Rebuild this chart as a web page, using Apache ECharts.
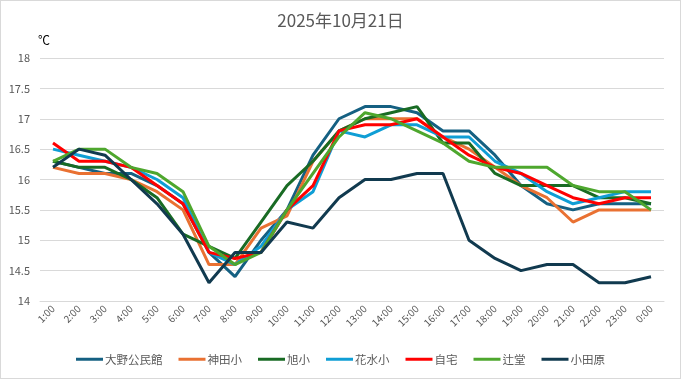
<!DOCTYPE html>
<html><head><meta charset="utf-8">
<script src="https://cdn.jsdelivr.net/npm/echarts@6/dist/echarts.min.js"></script>
<style>html,body{margin:0;padding:0;background:#fff}#c{width:679px;height:377px;border:1px solid #d9d9d9}</style>
</head><body><div id="c"></div>
<script>
const categories = ['1:00','2:00','3:00','4:00','5:00','6:00','7:00','8:00','9:00','10:00','11:00','12:00','13:00','14:00','15:00','16:00','17:00','18:00','19:00','20:00','21:00','22:00','23:00','0:00'];
const seriesNames = ['大野公民館','神田小','旭小','花水小','自宅','辻堂','小田原'];
const ono     = [16.3,16.2,16.1,16.1,15.9,15.6,14.8,14.4,15.0,15.5,16.4,17.0,17.2,17.2,17.1,16.8,16.8,16.4,15.9,15.6,15.5,15.6,15.6,15.6];
const kanda   = [16.2,16.1,16.1,16.0,15.8,15.5,14.6,14.6,15.2,15.4,16.3,16.8,17.0,17.0,17.0,16.7,16.5,16.2,15.9,15.7,15.3,15.5,15.5,15.5];
const asahi   = [16.3,16.2,16.2,16.0,15.7,15.1,14.9,14.7,15.3,15.9,16.3,16.8,17.0,17.1,17.2,16.6,16.6,16.1,15.9,15.9,15.9,15.7,15.7,15.6];
const hanamizu= [16.5,16.4,16.3,16.2,16.0,15.7,14.8,14.6,14.9,15.5,15.8,16.8,16.7,16.9,16.9,16.7,16.7,16.3,16.1,15.8,15.6,15.7,15.8,15.8];
const jitaku  = [16.6,16.3,16.3,16.2,15.9,15.6,14.8,14.7,14.8,15.5,15.9,16.8,16.9,16.9,17.0,16.7,16.4,16.2,16.1,15.9,15.7,15.6,15.7,15.7];
const tsujido = [16.3,16.5,16.5,16.2,16.1,15.8,14.9,14.6,14.8,15.5,16.1,16.7,17.1,17.0,16.8,16.6,16.3,16.2,16.2,16.2,15.9,15.8,15.8,15.5];
const odawara = [16.2,16.5,16.4,16.0,15.6,15.1,14.3,14.8,14.8,15.3,15.2,15.7,16.0,16.0,16.1,16.1,15.0,14.7,14.5,14.6,14.6,14.3,14.3,14.4];
const yTicks = {min:14, max:18, interval:0.5};
const dataList = [ono,kanda,asahi,hanamizu,jitaku,tsujido,odawara];
const colors = ['#156082','#E97132','#196B24','#0F9ED5','#FF0000','#4EA72E','#113A4F'];
const font = '"Noto Sans CJK JP","Noto Sans",sans-serif';
const chart = echarts.init(document.getElementById('c'));
chart.setOption({
  animation:false,
  color:colors,
  textStyle:{fontFamily:font},
  title:{text:'2025年10月21日',left:'center',top:6,textStyle:{fontSize:17,fontWeight:'normal',color:'#595959',fontFamily:font}},
  legend:{bottom:8,left:'center',icon:'rect',itemWidth:27,itemHeight:3,itemGap:16,
    textStyle:{fontSize:11.5,color:'#595959',padding:[0,0,0,-3]},data:seriesNames},
  grid:{left:39,right:16,top:57,bottom:77,containLabel:false},
  xAxis:{type:'category',data:categories,boundaryGap:true,
    axisLine:{show:true,lineStyle:{color:'#d9d9d9'}},axisTick:{show:false},
    axisLabel:{rotate:45,fontSize:10,color:'#595959',margin:6,interval:0}},
  yAxis:{type:'value',min:yTicks.min,max:yTicks.max,interval:yTicks.interval,
    name:'℃',nameLocation:'end',nameGap:12,nameTextStyle:{color:'#000',fontSize:12,align:'left',padding:[0,0,0,-2]},
    axisLine:{show:false},axisTick:{show:false},
    axisLabel:{fontSize:11,color:'#595959',margin:10,formatter:v=>String(v)},
    splitLine:{lineStyle:{color:'#d9d9d9'}}},
  series:seriesNames.map((n,i)=>({name:n,type:'line',data:dataList[i],symbol:'none',
    lineStyle:{width:3,color:colors[i]},itemStyle:{color:colors[i]}}))
});
</script></body></html>
